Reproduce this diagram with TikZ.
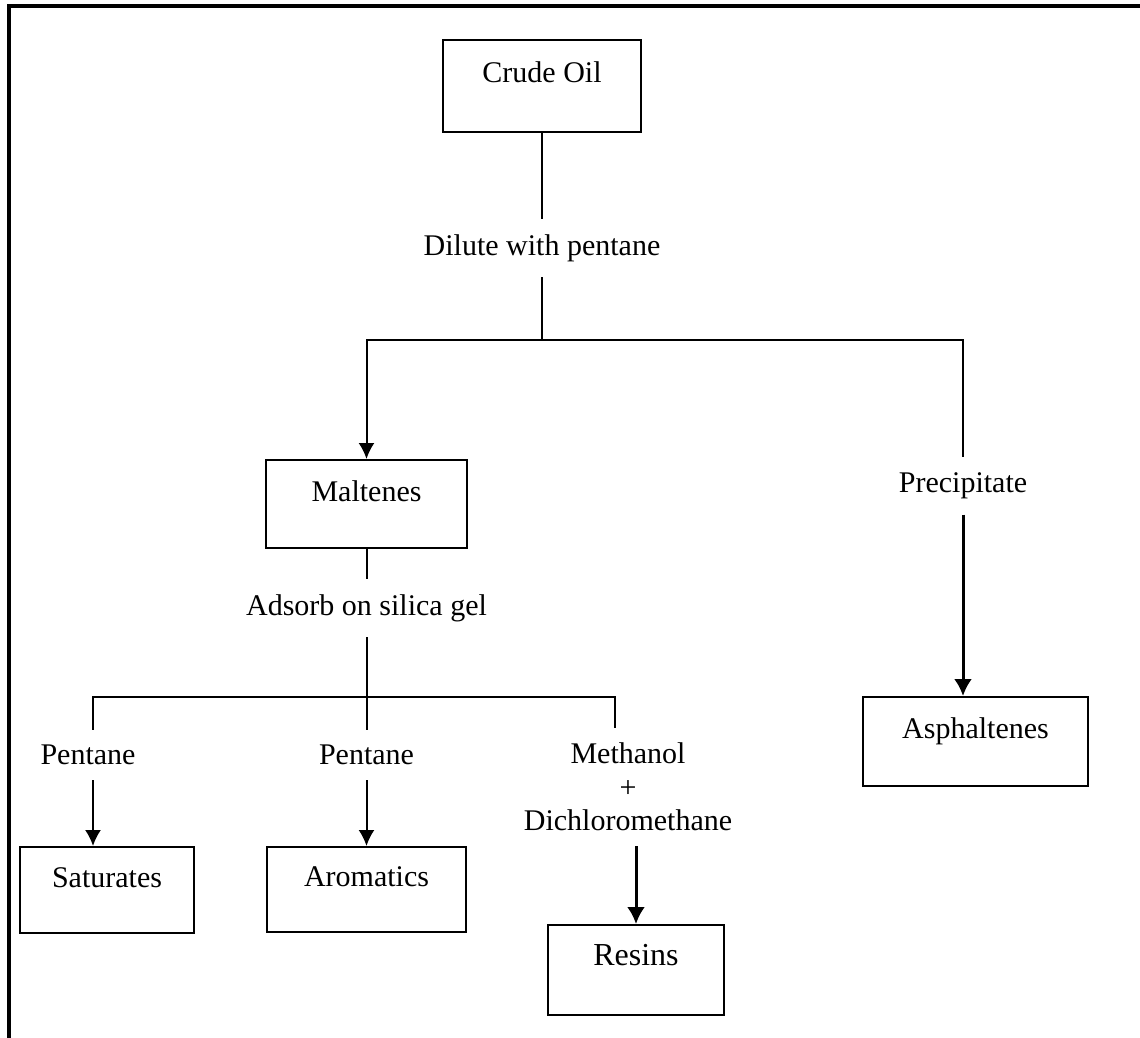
\documentclass[tikz,border=0pt]{standalone}
\usepackage{fontspec}
\setmainfont{Liberation Serif}
\usetikzlibrary{arrows.meta}
\tikzset{
	box/.style={draw, line width=1pt, font=\fontsize{15}{17}\selectfont, text height=10pt, text depth=13pt},
	tag/.style={font=\fontsize{15}{16.75}\selectfont, inner xsep=2pt, inner ysep=7.5pt, align=center},
	link/.style={line width=1pt},
	arr/.style={line width=1pt, -{Latex[length=8pt,width=8pt]}},
	bigarr/.style={line width=1.5pt, -{Latex[length=8.5pt,width=9pt]}},
}

\begin{document}
\begin{tikzpicture}[x=0.5pt, y=-0.5pt]
		%%%%% START %%%%%
		\useasboundingbox (0, 0) rectangle (1140, 1038);
		
		\draw[line width=1.6pt] (1140, 6) -- (9, 6) -- (9, 1038);
		
		\node[box, minimum width=99pt, minimum height=46pt] (crude) at (542, 86) {Crude Oil};
		\node[tag] (dilute) at (542, 248) {Dilute with pentane};
		\coordinate (split) at (542, 340);
		
		\node[box, minimum width=100.5pt, minimum height=44pt] (malt) at (366.5, 504) {Maltenes};
		\node[tag] (precip) at (963, 486) {Precipitate};
		\node[box, minimum width=112.5pt, minimum height=44.5pt] (asph) at (975.5, 741.5) {Asphaltenes};
		
		\draw[link] (crude) -- (dilute);
		\draw[link] (dilute) -- (split);
		\draw[arr] (split) -| (malt.north);
		\draw[link] (split) -| (precip.north);
		\draw[bigarr] (precip.south) -- (precip.south |- asph.north);
		
		\node[tag] (adsorb) at (366.5, 608) {Adsorb on silica gel};
		\coordinate (forkl) at (93, 697);
		\coordinate (forkr) at (615, 697);
		
		\node[tag] (pentl) at (88, 755) {Pentane};
		\node[tag] (pentm) at (366.5, 755) {Pentane};
		\node[tag] (mixed) at (628, 787) {Methanol\\+\\Dichloromethane};
		
		\node[box, minimum width=87pt, minimum height=43pt] (sat) at (107, 890) {Saturates};
		\node[box, minimum width=99.5pt, minimum height=42.5pt] (arom) at (366.5, 889.5) {Aromatics};
		\node[box, minimum width=88pt, minimum height=45pt, font=\fontsize{16}{18}\selectfont, text depth=14.4pt] (resins) at (636, 970) {Resins};
		
		\draw[link] (malt) -- (adsorb);
		\draw[link] (adsorb) -- (pentm);
		\draw[link] (forkl |- pentl.north) -- (forkl) -- (forkr) -- (forkr |- mixed.north);
		
		\draw[arr] (forkl |- pentl.south) -- (forkl |- sat.north);
		\draw[arr] (pentm) -- (arom);
		\draw[bigarr] (resins.north |- mixed.south) -- (resins.north);
		
		%%%%% END %%%%%
\end{tikzpicture}
\end{document}
